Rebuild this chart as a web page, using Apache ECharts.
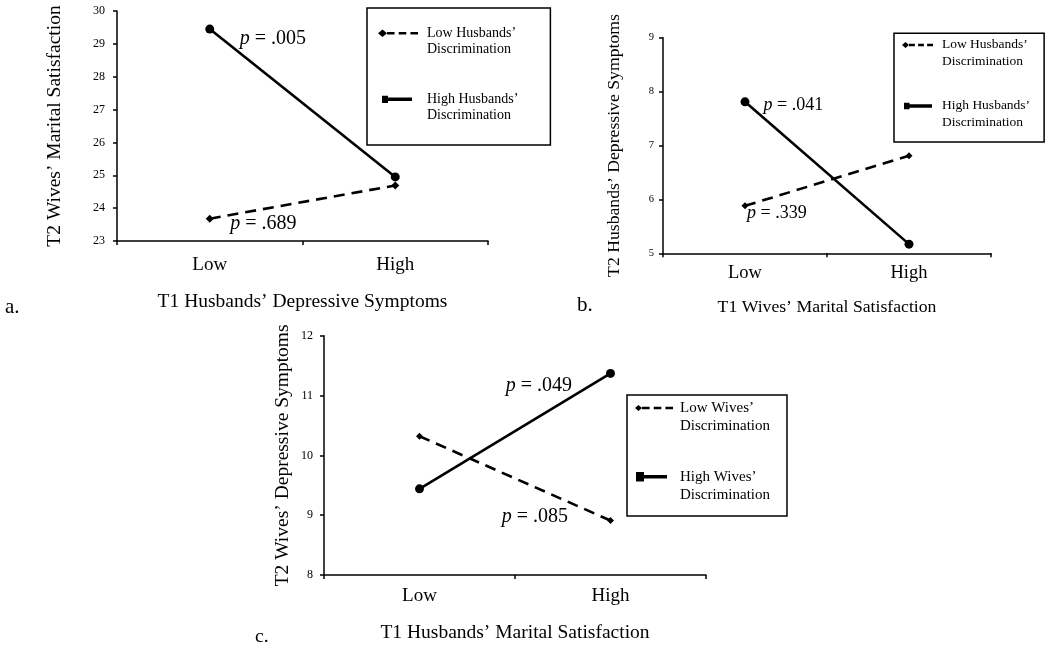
<!DOCTYPE html>
<html><head><meta charset="utf-8">
<script src="https://cdn.jsdelivr.net/npm/echarts@6/dist/echarts.min.js"></script>
<style>html,body{margin:0;padding:0;background:#fff}#c{width:1050px;height:652px}</style>
</head><body><div id="c"></div>
<script>
// ---------- data ----------
const categories = ['Low', 'High'];
// Panel a: T2 Wives' Marital Satisfaction by T1 Husbands' Depressive Symptoms
const aLowDisc = [23.68, 24.69];
const aHighDisc = [29.45, 24.95];
// Panel b: T2 Husbands' Depressive Symptoms by T1 Wives' Marital Satisfaction
const bLowDisc = [5.88, 6.81];
const bHighDisc = [7.81, 5.17];
// Panel c: T2 Wives' Depressive Symptoms by T1 Husbands' Marital Satisfaction
const cLowDisc = [10.32, 8.91];
const cHighDisc = [9.44, 11.37];
// y-axis ranges (min, max) with unit ticks
const aRange = [23, 30];
const bRange = [5, 9];
const cRange = [8, 12];
// p-values
const pA = ['.005', '.689'];   // [high disc, low disc]
const pB = ['.041', '.339'];
const pC = ['.049', '.085'];

const NAME_HL = 'Low Husbands’ Discrimination';
const NAME_HH = 'High Husbands’ Discrimination';
const NAME_WL = 'Low Wives’ Discrimination';
const NAME_WH = 'High Wives’ Discrimination';

const FONT = "'Liberation Serif', 'Times New Roman', serif";

// ---------- legend icons ----------
function iconLow(W, H, d, x1) {
  const cy = H / 4, t = 1.2;
  let p = `M0 0 L0 0 M${W} ${H} L${W} ${H} `;
  p += `M0 ${cy} L${d/2} ${cy - d*0.42} L${d} ${cy} L${d/2} ${cy + d*0.42} Z `;
  const total = x1 - d, dl = total / 4.1, g = dl * 0.55;
  for (let k = 0; k < 3; k++) {
    const s = d + k * (dl + g), e = Math.min(s + dl, x1);
    p += `M${s} ${cy - t} L${e} ${cy - t} L${e} ${cy + t} L${s} ${cy + t} Z `;
  }
  return 'path://' + p;
}
function iconHigh(W, H, s0, sw, x1) {
  const cy = H / 4, t = 1.7, sh = sw * 1.2;
  let p = `M0 0 L0 0 M${W} ${H} L${W} ${H} `;
  p += `M${s0} ${cy - sh/2} L${s0 + sw} ${cy - sh/2} L${s0 + sw} ${cy + sh/2} L${s0} ${cy + sh/2} Z `;
  p += `M${s0 + sw} ${cy - t} L${x1} ${cy - t} L${x1} ${cy + t} L${s0 + sw} ${cy + t} Z`;
  return 'path://' + p;
}

function pLabel(text, pos, offset, size) {
  return {
    show: true, position: pos, distance: 0, offset: offset,
    formatter: '{i|p} = ' + text,
    color: '#000', fontFamily: FONT, fontSize: size,
    rich: { i: { fontStyle: 'italic', fontFamily: FONT, fontSize: size, color: '#000' } }
  };
}
function withLabel(values, idx, label) {
  return values.map((v, i) => i === idx ? { value: v, label: label } : v);
}

function makeGrid(left, top, width, height) {
  return { left, top, width, height, containLabel: false };
}
function makeX(gi, name, nameGap, catSize, labelMargin) {
  return {
    type: 'category', gridIndex: gi, data: categories, boundaryGap: true,
    name: name, nameLocation: 'middle', nameGap: nameGap,
    nameTextStyle: { fontFamily: FONT, fontSize: catSize.title, color: '#000' },
    axisLine: { lineStyle: { color: '#000', width: 1.5 } },
    axisTick: { show: true, length: 4, lineStyle: { color: '#000', width: 1.5 } },
    axisLabel: { fontFamily: FONT, fontSize: catSize.cat, color: '#000', margin: labelMargin },
    splitLine: { show: false }
  };
}
function makeY(gi, range, name, nameGap, titleSize, tickSize, labelMargin) {
  return {
    type: 'value', gridIndex: gi, min: range[0], max: range[1], interval: 1,
    name: name, nameLocation: 'middle', nameGap: nameGap,
    nameTextStyle: { fontFamily: FONT, fontSize: titleSize, color: '#000' },
    axisLine: { show: true, lineStyle: { color: '#000', width: 1.5 } },
    axisTick: { show: true, length: 4, lineStyle: { color: '#000', width: 1.5 } },
    axisLabel: { fontFamily: FONT, fontSize: tickSize, color: '#000', margin: labelMargin },
    splitLine: { show: false }
  };
}
function lowSeries(name, gi, data, sym) {
  return {
    type: 'line', name: name, xAxisIndex: gi, yAxisIndex: gi, data: data,
    symbol: 'diamond', symbolSize: sym, color: '#000',
    lineStyle: { color: '#000', width: 2.6, type: [11, 7] },
    itemStyle: { color: '#000' }, z: 3, silent: true
  };
}
function highSeries(name, gi, data, sym) {
  return {
    type: 'line', name: name, xAxisIndex: gi, yAxisIndex: gi, data: data,
    symbol: 'circle', symbolSize: sym, color: '#000',
    lineStyle: { color: '#000', width: 2.6, type: 'solid' },
    itemStyle: { color: '#000' }, z: 4, silent: true
  };
}
function makeLegend(cfg) {
  return {
    left: cfg.left, top: cfg.top, orient: 'vertical', selectedMode: false,
    itemWidth: cfg.W, itemHeight: cfg.H, itemGap: cfg.gap,
    padding: cfg.pad, borderColor: '#000', borderWidth: 1.5, borderRadius: 0,
    backgroundColor: 'transparent',
    itemStyle: { color: '#000', borderWidth: 0 },
    data: [
      { name: cfg.names[0], icon: iconLow(cfg.W, cfg.H, cfg.dLow, cfg.lowEnd) },
      { name: cfg.names[1], icon: iconHigh(cfg.W, cfg.H, cfg.sq0, cfg.sqW, cfg.highEnd) }
    ],
    formatter: n => n.replace(' Discrimination', '\nDiscrimination'),
    textStyle: { fontFamily: FONT, fontSize: cfg.fs, lineHeight: cfg.L, color: '#000', padding: [0, 0, 0, cfg.tp] }
  };
}

const chart = echarts.init(document.getElementById('c'), null, { renderer: 'canvas' });
chart.setOption({
  animation: false,
  backgroundColor: '#fff',
  grid: [
    makeGrid(117, 11, 371, 230),
    makeGrid(663, 37.7, 328, 215.6),
    makeGrid(324, 335.7, 382, 239.3)
  ],
  xAxis: [
    makeX(0, 'T1 Husbands’ Depressive Symptoms', 51, { title: 19.5, cat: 19 }, 15),
    makeX(1, 'T1 Wives’ Marital Satisfaction', 45, { title: 17.7, cat: 18.5 }, 10),
    makeX(2, 'T1 Husbands’ Marital Satisfaction', 48, { title: 19.5, cat: 19 }, 12)
  ],
  yAxis: [
    makeY(0, aRange, 'T2 Wives’ Marital Satisfaction', 52, 19.5, 12, 12),
    makeY(1, bRange, 'T2 Husbands’ Depressive Symptoms', 39.5, 17.7, 10.5, 9),
    makeY(2, cRange, 'T2 Wives’ Depressive Symptoms', 31.5, 19.5, 12, 11)
  ],
  legend: [
    makeLegend({ left: 367, top: 8, W: 44, H: 32, L: 16, fs: 14, gap: 34, tp: 0,
      pad: [17.3, 32, 21.7, 11], dLow: 9, lowEnd: 40, sq0: 4, sqW: 6, highEnd: 34,
      names: [NAME_HL, NAME_HH] }),
    makeLegend({ left: 894, top: 33.3, W: 35, H: 33.4, L: 16.7, fs: 13.5, gap: 27.6, tp: 0,
      pad: [3.3, 14, 11, 8], dLow: 7, lowEnd: 31, sq0: 2, sqW: 5.5, highEnd: 30,
      names: [NAME_HL, NAME_HH] }),
    makeLegend({ left: 627, top: 395, W: 40, H: 36, L: 18, fs: 15, gap: 32.7, tp: 0,
      pad: [4, 17, 12.3, 8], dLow: 7, lowEnd: 38, sq0: 1, sqW: 8, highEnd: 32,
      names: [NAME_WL, NAME_WH] })
  ],
  series: [
    lowSeries(NAME_HL, 0, withLabel(aLowDisc, 0, pLabel(pA[1], 'right', [16.5, 5.5], 20)), 8),
    highSeries(NAME_HH, 0, withLabel(aHighDisc, 0, pLabel(pA[0], 'right', [25.5, 10], 20)), 9),
    lowSeries(NAME_HL, 1, withLabel(bLowDisc, 0, pLabel(pB[1], 'right', [-1.5, 7], 18)), 7),
    highSeries(NAME_HH, 1, withLabel(bHighDisc, 0, pLabel(pB[0], 'right', [14, 3], 18)), 9),
    lowSeries(NAME_WL, 2, withLabel(cLowDisc, 1, pLabel(pC[1], 'left', [-39, -4], 20)), 7),
    highSeries(NAME_WH, 2, withLabel(cHighDisc, 1, pLabel(pC[0], 'left', [-34, 12], 20)), 9)
  ],
  graphic: [
    { type: 'text', left: 5, top: 297, style: { text: 'a.', font: '21px ' + FONT, fill: '#000' } },
    { type: 'text', left: 577, top: 295, style: { text: 'b.', font: '21px ' + FONT, fill: '#000' } },
    { type: 'text', left: 255, top: 627, style: { text: 'c.', font: '19.5px ' + FONT, fill: '#000' } }
  ]
});
</script>
</body></html>
